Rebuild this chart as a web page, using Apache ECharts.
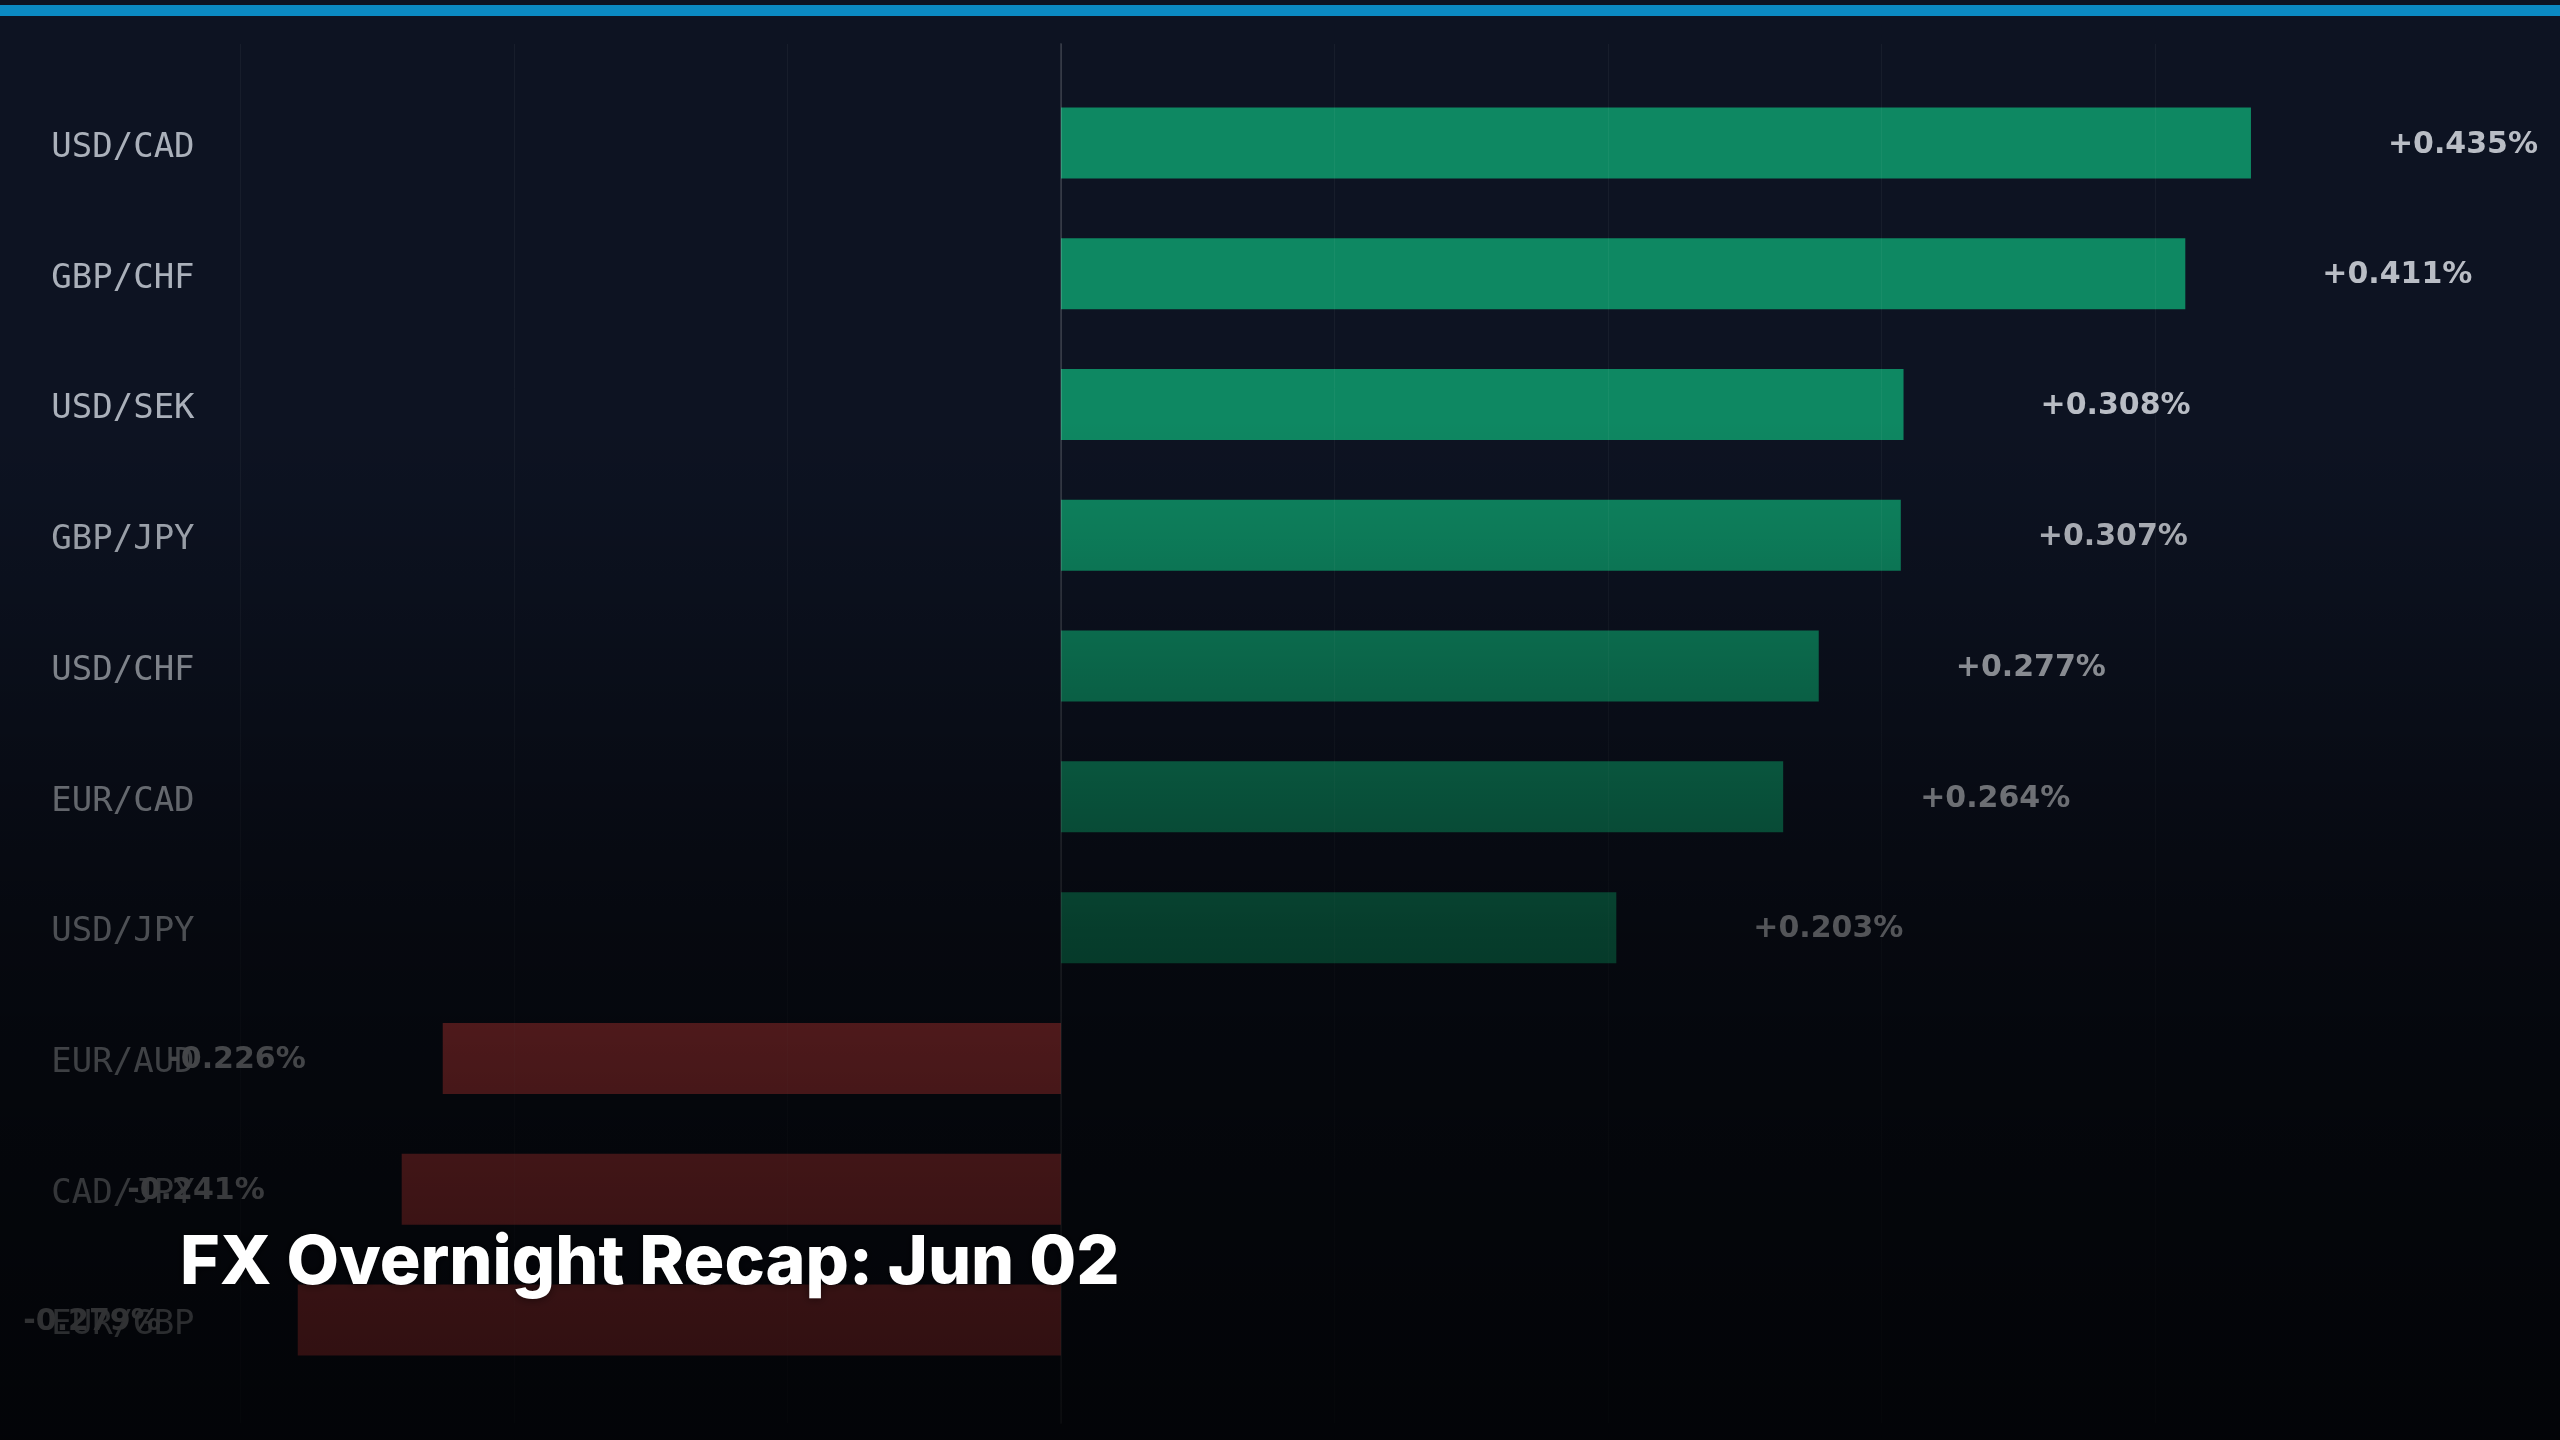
<!DOCTYPE html>
<html>
<head>
<meta charset="utf-8">
<style>
  html, body { margin: 0; padding: 0; background: #0d1322; }
  #chart { width: 2560px; height: 1440px; }
</style>
<script src="https://cdn.jsdelivr.net/npm/echarts@6/dist/echarts.min.js"></script>
</head>
<body>
<div id="chart"></div>
<script>
const titleText = 'FX Overnight Recap: Jun 02';
const categories = ['USD/CAD', 'GBP/CHF', 'USD/SEK', 'GBP/JPY', 'USD/CHF', 'EUR/CAD', 'USD/JPY', 'EUR/AUD', 'CAD/JPY', 'EUR/GBP'];
const changes = [0.435, 0.411, 0.308, 0.307, 0.277, 0.264, 0.203, -0.226, -0.241, -0.279];

const UP = '#0e8862';
const DOWN = 'rgb(200,65,70)';

const chart = echarts.init(document.getElementById('chart'), null, { renderer: 'canvas' });

const barData = changes.map(v => ({
  value: v,
  itemStyle: { color: v >= 0 ? UP : DOWN },
  label: { position: v >= 0 ? 'right' : 'left' }
}));

const xCommon = { type: 'value', min: -0.3, max: 0.45, interval: 0.1 };

chart.setOption({
  backgroundColor: '#0d1322',
  animation: false,
  grid: [
    { left: 240.3, right: 268, top: 44, bottom: 17 },
    { left: 240.3, right: 268, top: 77.5, bottom: 54.6 }
  ],
  xAxis: [
    Object.assign({}, xCommon, {
      gridIndex: 0, z: 5,
      axisLine: { show: false }, axisTick: { show: false }, axisLabel: { show: false },
      splitLine: { show: true, showMinLine: true, showMaxLine: false, lineStyle: { color: 'rgba(255,255,255,0.045)', width: 1 } }
    }),
    Object.assign({}, xCommon, {
      gridIndex: 1, show: false,
      splitLine: { show: false }
    })
  ],
  yAxis: [
    {
      type: 'value', gridIndex: 0, min: 0, max: 1, z: 6,
      axisLine: { show: true, onZero: true, lineStyle: { color: 'rgba(255,255,255,0.13)', width: 2 } },
      axisTick: { show: false }, axisLabel: { show: false }, splitLine: { show: false }
    },
    {
      type: 'category', gridIndex: 1, inverse: true, data: categories,
      axisLine: { show: false }, axisTick: { show: false }, splitLine: { show: false },
      axisLabel: {
        align: 'left', margin: 189, verticalAlign: 'top', lineHeight: 10,
        fontFamily: 'DejaVu Sans Mono', fontSize: 34, color: '#aab0ba'
      }
    }
  ],
  series: [
    {
      type: 'bar', xAxisIndex: 1, yAxisIndex: 1,
      barWidth: 71, z: 2,
      data: barData,
      label: {
        show: true, distance: 137, offset: [0, 2],
        fontFamily: 'DejaVu Sans', fontWeight: 'bold', fontSize: 30, color: '#b9bdc5',
        formatter: p => (p.value >= 0 ? '+' : '') + p.value.toFixed(3) + '%'
      }
    }
  ],
  graphic: [
    {
      type: 'rect', left: 0, top: 0, z: 50, silent: true,
      shape: { x: 0, y: 0, width: 2560, height: 1440 },
      style: {
        fill: new echarts.graphic.LinearGradient(0, 0, 0, 1, [
          { offset: 0, color: 'rgba(0,0,0,0)' },
          { offset: 0.2917, color: 'rgba(0,0,0,0)' },
          { offset: 0.3715, color: 'rgba(0,0,0,0.10)' },
          { offset: 0.4625, color: 'rgba(0,0,0,0.26)' },
          { offset: 0.5535, color: 'rgba(0,0,0,0.41)' },
          { offset: 0.6438, color: 'rgba(0,0,0,0.55)' },
          { offset: 0.7347, color: 'rgba(0,0,0,0.63)' },
          { offset: 0.8257, color: 'rgba(0,0,0,0.69)' },
          { offset: 0.9167, color: 'rgba(0,0,0,0.74)' },
          { offset: 1, color: 'rgba(0,0,0,0.78)' }
        ])
      }
    },
    {
      type: 'rect', left: 0, top: 5, z: 60, silent: true,
      shape: { width: 2560, height: 11 },
      style: { fill: '#0b89c2' }
    },
    {
      type: 'text', left: 180, top: 1230, z: 100, silent: true,
      style: {
        text: titleText,
        font: '800 68px Inter',
        fill: '#ffffff',
        textShadowColor: 'rgba(0,0,0,0.6)', textShadowBlur: 10
      }
    }
  ]
});
</script>
</body>
</html>
